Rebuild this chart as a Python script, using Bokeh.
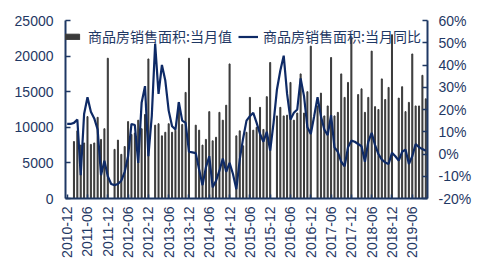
from bokeh.plotting import figure
from bokeh.models import (Range1d, LinearAxis, FixedTicker, PrintfTickFormatter,
                          Legend, LegendItem, ColumnDataSource)
from bokeh.embed import file_html
from bokeh.resources import INLINE
import math

# ---- data ----
start_year, start_month, n_months = 2010, 12, 107
months = []
y, m = start_year, start_month
for _ in range(n_months):
    months.append(f"{y}-{m:02d}")
    m += 1
    if m > 12:
        m, y = 1, y + 1

area = [None, None, 8000, 9500, 7500, 7800, 11500, 7600, 7800, 11400, 8300, 9800, 19700,
        None, 6900, 8200, 6200, 7300, 10800, 9000, 9200, 11000, 9800, 11800, 19600,
        None, 10300, 10500, 8800, 9300, 10500, 9300, 9600, 13500, 10400, 14900, 19700,
        None, 10300, 9600, 7500, 8300, 12200, 8100, 8600, 12100, 11000, 13100, 18900,
        None, 8800, 9500, 7400, 9300, 14200, 9600, 10000, 12800, 9700, 14300, 19100,
        None, 11600, 12800, 11600, 11700, 16300, 11000, 12000, 17500, 12000, 15000, 21400,
        None, 13000, 14800, 11600, 13000, 19800, 11600, 12100, 17500, 14200, 16300, 22500,
        None, 14600, 15400, 12100, 14200, 20700, 12900, 12500, 16800, 13900, 15600, 23000,
        None, 14100, 15700, 12200, 13500, 20300, 13000, 13000, 17300, 14000]

yoy = [13.5, 13.5, 14, 15.5, -9.5, 18, 25.5, 19, 16, 11, -9.5, -3, -10,
       -13.5, -14, -13.5, -12, -8, -1, 13.5, 13, -4, 23, 30.5, -1,
       17, 49.5, 27, 40, 33, 19.5, 12.5, 11, 23.3, 15, 14, 1,
       0.7, 0.4, -7, -14, -6, -1, -15, -12, -7.5, -2, -8, -4,
       -9, -15.8, -2.5, 7, 15, 17, 18.5, 14, 9, 5.5, 10, 1.5,
       14, 29, 37.5, 44.2, 27, 15.5, 18.5, 20, 34, 26, 12, 9,
       17, 25.5, 17, 11, 8.5, 17.5, 3, 1, -3.5, -5.5, 3, 6,
       5.5, 4.5, 3.5, -3.5, 5.5, 9.5, 4, 0, -2.5, -3.8, -4.5, 0.5,
       -1, -3, 1, 2, -4.5, -1, 4.5, 3, 2.2, 1.5]

left_ticks = [0, 5000, 10000, 15000, 20000, 25000]
right_ticks = [-20, -10, 0, 10, 20, 30, 40, 50, 60]
label_step = 6
series_names = ["商品房销售面积:当月值", "商品房销售面积:当月同比"]

# ---- styling / layout ----
NAVY = "#1f3864"
LINE = "#0e2a66"
BAR = "#3a3a3a"
FONT = "Liberation Sans"
CJK = "Noto Sans CJK SC"

n = len(months)
idx = list(range(n))
src = ColumnDataSource(dict(x=idx, area=[float('nan') if v is None else v for v in area], yoy=yoy))

p = figure(width=489, height=267,
           min_border_left=65, min_border_right=62, min_border_top=20, min_border_bottom=69,
           x_range=Range1d(-0.5, n - 0.5), y_range=Range1d(left_ticks[0], left_ticks[-1]),
           output_backend="svg", toolbar_location=None, outline_line_color=None)
p.xgrid.visible = False
p.ygrid.visible = False

p.extra_y_ranges = {"pct": Range1d(right_ticks[0], right_ticks[-1])}

bars = p.vbar(x="x", top="area", width=0.3, source=src, color=BAR)
line = p.line(x="x", y="yoy", source=src, y_range_name="pct", line_color=LINE, line_width=2.2)

# axes
xa = p.xaxis[0]
xa.ticker = FixedTicker(ticks=idx[::label_step])
xa.major_label_overrides = {i: months[i] for i in idx[::label_step]}
xa.major_label_orientation = math.pi / 2
xa.major_tick_in = 4
xa.major_tick_out = 0
xa.major_label_standoff = 8

ya = p.yaxis[0]
ya.ticker = FixedTicker(ticks=left_ticks)
ya.major_tick_in = 5
ya.major_tick_out = 0
ya.major_label_standoff = 12

ra = LinearAxis(y_range_name="pct", ticker=FixedTicker(ticks=right_ticks),
                formatter=PrintfTickFormatter(format="%d%%"))
ra.major_tick_in = 5
ra.major_tick_out = 0
ra.major_label_standoff = 11
p.add_layout(ra, "right")

for ax in (xa, ya, ra):
    ax.axis_line_color = NAVY
    ax.axis_line_width = 2
    ax.minor_tick_line_color = None
    ax.major_tick_line_color = NAVY
    ax.major_tick_line_width = 1.5
    ax.major_label_text_color = NAVY
    ax.major_label_text_font = FONT
    ax.major_label_text_font_size = "14px"

common = dict(orientation="horizontal", background_fill_alpha=0, border_line_color=None,
              padding=0, margin=0, spacing=0, label_standoff=5, glyph_height=7,
              label_height=14, label_text_font=CJK, label_text_font_size="14px",
              label_text_color=NAVY)
legend_a = Legend(items=[LegendItem(label=series_names[0], renderers=[bars])],
                  location=(-21, 152), glyph_width=39, **common)
legend_b = Legend(items=[LegendItem(label=series_names[1], renderers=[line])],
                  location=(173, 152), glyph_width=20, **common)
p.add_layout(legend_a, "center")
p.add_layout(legend_b, "center")

open("out.html", "w").write(file_html(p, INLINE))
